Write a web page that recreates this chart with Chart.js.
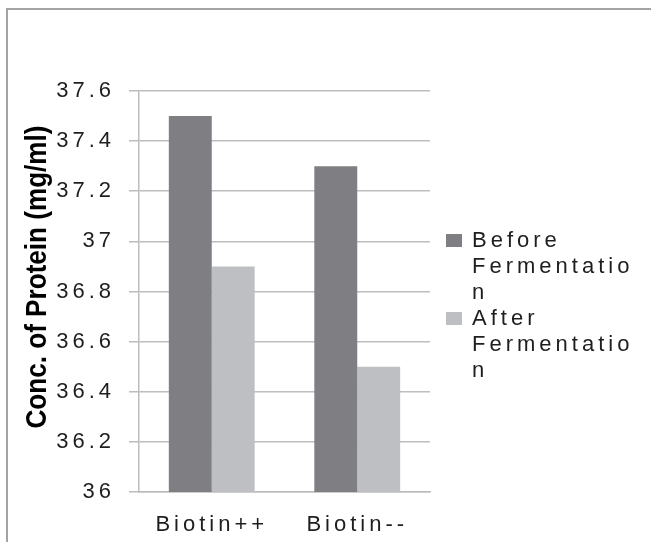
<!DOCTYPE html>
<html>
<head>
<meta charset="utf-8">
<script src="https://cdn.jsdelivr.net/npm/chart.js@4"></script>
<style>
  html, body { margin: 0; padding: 0; background: #fff; }
  #wrap { position: relative; width: 651px; height: 542px; }
</style>
</head>
<body>
<div id="wrap"><canvas id="chart" width="651" height="542"></canvas></div>
<script>
// datos del gráfico
const categories = ['Biotin++', 'Biotin--'];
const seriesNames = ['Before Fermentation', 'After Fermentation'];
const beforeValues = [37.5, 37.3];
const afterValues = [36.9, 36.5];
const yTickValues = [36, 36.2, 36.4, 36.6, 36.8, 37, 37.2, 37.4, 37.6];
const yTickLabels = ['36', '36.2', '36.4', '36.6', '36.8', '37', '37.2', '37.4', '37.6'];
const yTitle = 'Conc. of Protein (mg/ml)';

const FONT = '"Liberation Sans", Arial, sans-serif';
const SPACING = '4px';
const TEXT_SIZE = 22;

// marco, título del eje y leyenda dibujados a mano
const extras = {
    id: 'extras',
    beforeDraw(chart) {
        const c = chart.ctx;
        c.save();
        c.strokeStyle = '#a3a3a3';
        c.lineWidth = 2;
        c.strokeRect(7, 9, 800, 700);
        c.restore();
        c.letterSpacing = SPACING;
    },
    afterDraw(chart) {
        const c = chart.ctx;

        // título del eje Y (condensado)
        c.save();
        c.letterSpacing = '0px';
        c.font = 'bold 29px ' + FONT;
        c.fillStyle = '#000';
        c.textAlign = 'center';
        c.textBaseline = 'alphabetic';
        c.translate(46, 277);
        c.rotate(-Math.PI / 2);
        c.scale(0.9, 1);
        c.fillText(yTitle, 0, 0);
        c.restore();

        // leyenda
        c.save();
        c.letterSpacing = SPACING;
        c.font = TEXT_SIZE + 'px ' + FONT;
        c.textAlign = 'left';
        c.textBaseline = 'alphabetic';
        const maxW = 168;
        const lineH = 26;
        let y = 247;
        chart.data.datasets.forEach(ds => {
            c.fillStyle = ds.backgroundColor;
            c.fillRect(446, y - 13, 16, 13);
            c.fillStyle = '#1e1e1e';
            wrap(c, ds.label, maxW).forEach(line => {
                c.fillText(line, 472, y);
                y += lineH;
            });
        });
        c.restore();
    }
};

function wrap(c, text, maxW) {
    const out = [];
    let cur = '';
    text.split(' ').forEach(word => {
        const test = cur ? cur + ' ' + word : word;
        if (c.measureText(test).width <= maxW) { cur = test; return; }
        if (cur) out.push(cur);
        cur = '';
        for (const ch of word) {
            if (c.measureText(cur + ch).width > maxW && cur) { out.push(cur); cur = ch; }
            else cur += ch;
        }
    });
    if (cur) out.push(cur);
    return out;
}

const gridColor = '#bdbdbd';

new Chart(document.getElementById('chart'), {
    type: 'bar',
    data: {
        labels: categories,
        datasets: [
            { label: seriesNames[0], data: beforeValues, backgroundColor: '#7f7f83' },
            { label: seriesNames[1], data: afterValues, backgroundColor: '#bebfc3' }
        ]
    },
    options: {
        responsive: false,
        animation: false,
        events: [],
        layout: { padding: { left: 0, top: 91, right: 221, bottom: 0 } },
        datasets: { bar: { categoryPercentage: 0.59, barPercentage: 1 } },
        plugins: { legend: { display: false }, tooltip: { enabled: false } },
        scales: {
            x: {
                grid: { display: false, drawTicks: false },
                border: { display: true, color: gridColor, width: 1.5 },
                ticks: { color: '#1e1e1e', padding: 20, font: { family: FONT, size: TEXT_SIZE }, maxRotation: 0 },
                afterFit(scale) { scale.height = 50; }
            },
            y: {
                min: 36,
                max: 37.6,
                afterBuildTicks(scale) { scale.ticks = yTickValues.map(v => ({ value: v })); },
                afterFit(scale) { scale.width = 139; },
                grid: { color: gridColor, lineWidth: 1.5, tickLength: 10 },
                border: { display: true, color: gridColor, width: 1.5 },
                ticks: {
                    color: '#1e1e1e',
                    padding: 14,
                    font: { family: FONT, size: TEXT_SIZE },
                    callback: (v, i) => yTickLabels[i]
                }
            }
        }
    },
    plugins: [extras]
});
</script>
</body>
</html>
